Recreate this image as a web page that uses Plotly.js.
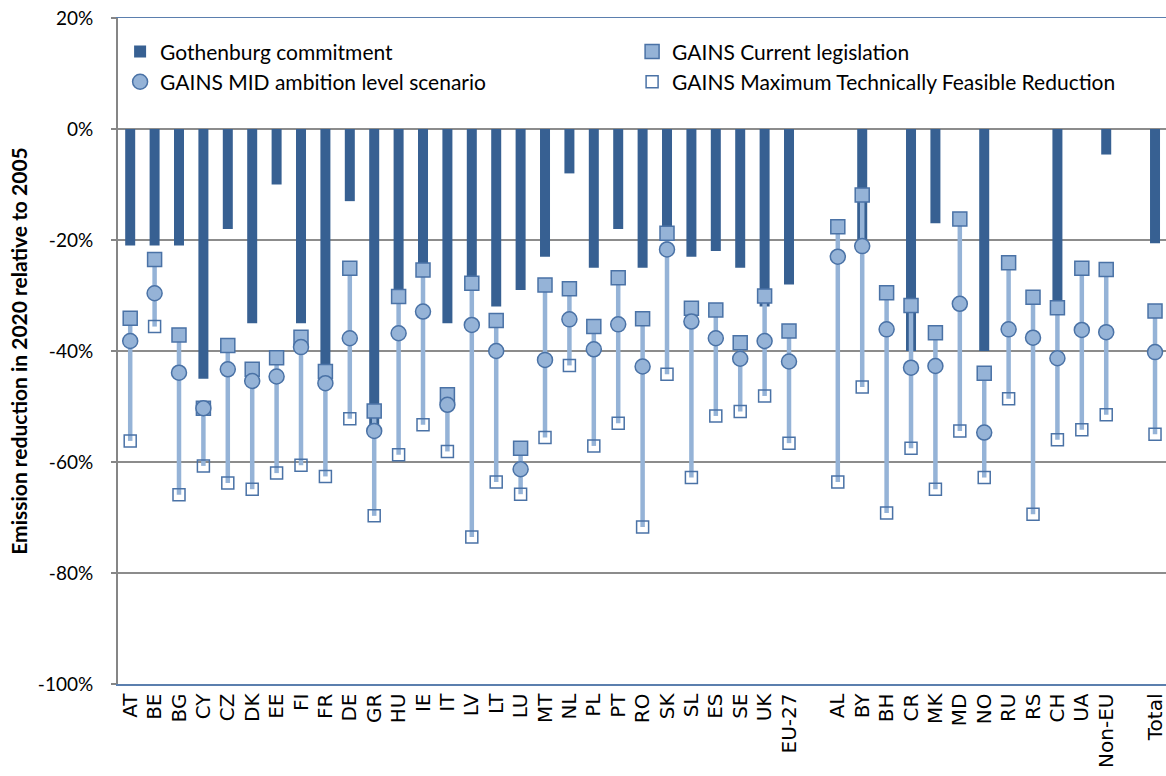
<!DOCTYPE html>
<html>
<head>
<meta charset="utf-8">
<script src="https://cdn.plot.ly/plotly-3.0.1.min.js"></script>
<style>html,body{margin:0;padding:0;background:#fff;overflow:hidden}</style>
</head>
<body>
<div id="chart" style="width:1166px;height:776px"></div>
<script>
var categories = ['AT','BE','BG','CY','CZ','DK','EE','FI','FR','DE','GR','HU','IE','IT','LV','LT','LU','MT','NL','PL','PT','RO','SK','SL','ES','SE','UK','EU-27',' ','AL','BY','BH','CR','MK','MD','NO','RU','RS','CH','UA','Non-EU','  ','Total'];

var gothenburg = [-21,-21,-21,-45,-18,-35,-10,-35,-43,-13,-54,-30,-25,-35,-27,-32,-29,-23,-8,-25,-18,-25,-18,-23,-22,-25,-32,-28,null,
  null,-20,null,-40,-17,null,-40,null,null,-32,null,-4.6,null,-20.6];

var currentLegislation = [-34.1,-23.5,-37.1,-50.3,-39.0,-43.3,-41.2,-37.5,-43.7,-25.1,-50.8,-30.2,-25.4,-47.9,-27.8,-34.5,-57.5,-28.1,-28.8,-35.6,-26.8,-34.2,-18.8,-32.3,-32.6,-38.5,-30.1,-36.4,null,
  -17.6,-11.9,-29.5,-31.8,-36.7,-16.2,-44.0,-24.1,-30.3,-32.2,-25.1,-25.3,null,-32.8];

var midScenario = [-38.2,-29.6,-43.9,-50.3,-43.3,-45.4,-44.6,-39.3,-45.8,-37.7,-54.4,-36.8,-32.9,-49.7,-35.3,-40.0,-61.3,-41.6,-34.3,-39.7,-35.2,-42.8,-21.7,-34.7,-37.7,-41.4,-38.2,-41.9,null,
  -23.0,-21.1,-36.1,-43.0,-42.7,-31.5,-54.7,-36.1,-37.6,-41.3,-36.2,-36.6,null,-40.2];

var mtfr = [-56.2,-35.6,-65.9,-60.7,-63.8,-64.9,-62.0,-60.6,-62.6,-52.2,-69.7,-58.7,-53.3,-58.1,-73.5,-63.6,-65.8,-55.6,-42.6,-57.1,-53.0,-71.7,-44.2,-62.8,-51.7,-50.9,-48.1,-56.6,null,
  -63.6,-46.5,-69.2,-57.5,-64.9,-54.4,-62.8,-48.6,-69.4,-56.0,-54.2,-51.5,null,-55.0];

var yTickVals = [-100,-80,-60,-40,-20,0,20];
var yTickText = ['-100%','-80%','-60%','-40%','-20%','0%','20%'];

var seriesNames = ['Gothenburg commitment','GAINS Current legislation','GAINS MID ambition level scenario','GAINS Maximum Technically Feasible Reduction'];

// span from current legislation down to MTFR, derived from the data
var spanDown = currentLegislation.map(function(v,i){ return (v===null||mtfr[i]===null)?null:(v-mtfr[i]); });
var spanUp = currentLegislation.map(function(v){ return v===null?null:0; });

var lightBlue = '#95b3d7';
var edgeBlue = '#4a72a6';

var traces = [
  {type:'bar', name:seriesNames[0], x:categories, y:gothenburg,
   marker:{color:'#376092', line:{width:0}}},
  {type:'scatter', mode:'markers', name:seriesNames[1], x:categories, y:currentLegislation,
   marker:{symbol:'square', size:14, color:lightBlue, line:{color:edgeBlue, width:1.5}},
   error_y:{type:'data', symmetric:false, array:spanUp, arrayminus:spanDown, width:0, thickness:4.5, color:lightBlue}},
  {type:'scatter', mode:'markers', name:seriesNames[2], x:categories, y:midScenario,
   marker:{symbol:'circle', size:15, color:lightBlue, line:{color:edgeBlue, width:1.5}}},
  {type:'scatter', mode:'markers', name:seriesNames[3], x:categories, y:mtfr,
   marker:{symbol:'square-open', size:12, color:edgeBlue, line:{width:1.5}}}
];

var layout = {
  width:1166, height:776,
  margin:{l:118, r:0, t:18, b:92, pad:0},
  paper_bgcolor:'#ffffff', plot_bgcolor:'#ffffff',
  bargap:0.59,
  showlegend:true,
  legend:{orientation:'h', x:0.002, y:0.98, xanchor:'left', yanchor:'top',
    entrywidth:467, entrywidthmode:'pixels', traceorder:'normal',
    font:{family:'Lato, sans-serif', size:21, color:'#000'}, bgcolor:'rgba(0,0,0,0)'},
  xaxis:{type:'category', categoryorder:'array', categoryarray:categories,
    range:[-0.5, 42.45], tickangle:-90, ticks:'', showgrid:false, zeroline:false,
    showline:true, linecolor:'#5b7fae', linewidth:1.5, mirror:true,
    tickfont:{family:'DejaVu Sans, sans-serif', size:20, color:'#000'}, automargin:false},
  yaxis:{range:[-100,20], tickvals:yTickVals, ticktext:yTickText,
    showgrid:true, gridcolor:'#8c8c8c', gridwidth:1.3, zeroline:false,
    showline:true, linecolor:'#868686', linewidth:2,
    ticks:'outside', ticklen:5, tickcolor:'#868686', tickwidth:1.3,
    ticklabelstandoff:14,
    tickfont:{family:'Lato, sans-serif', size:19, color:'#000'},
    title:{text:'<b>Emission reduction in 2020 relative to 2005</b>', standoff:4,
      font:{family:'Lato, sans-serif', size:21, color:'#000'}},
    automargin:false}
};

Plotly.newPlot('chart', traces, layout, {displayModeBar:false, staticPlot:true});
</script>
</body>
</html>
